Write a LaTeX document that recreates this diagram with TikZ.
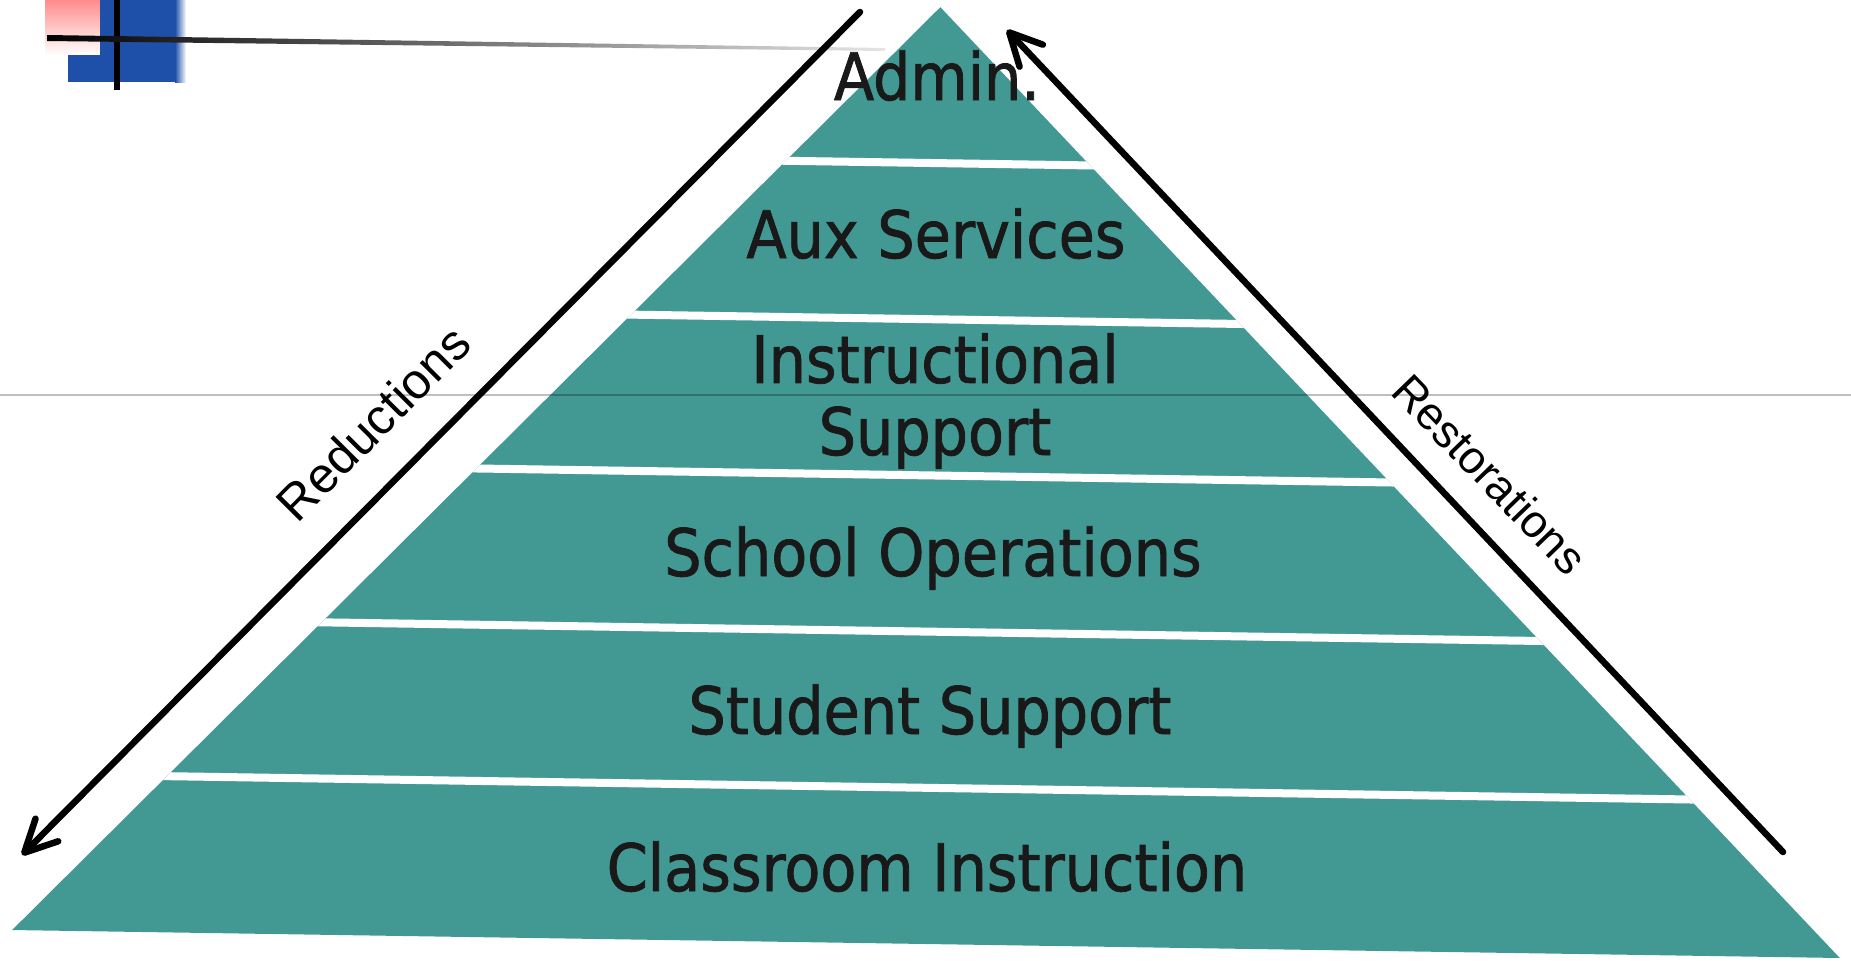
\documentclass[tikz,border=0pt]{standalone}
\usepackage{fontspec}
\usetikzlibrary{arrows.meta}
\newfontfamily\tierfont{DejaVu Sans Condensed}[FakeBold=1.2]
\newfontfamily\sidefont{Liberation Sans}
\definecolor{pyrteal}{RGB}{66,153,148}
\definecolor{logoblue}{RGB}{30,80,170}
\tikzset{
    tier/.style={font=\tierfont\fontsize{18.6}{20.5}\selectfont, text=black!90, inner sep=0mm, anchor=base, align=center}
}
\tikzset{sidelabel/.style={inner sep=0mm}}
\tikzset{bigarrow/.style={line width=0.065cm, line cap=round, -{Straight Barb[length=3.2mm,width=3.2mm,round]}}}

\begin{document}
\begin{tikzpicture}[x=0.01cm, y=-0.01cm]
    \useasboundingbox (0,0) rectangle (1851,960);

    % logo in the corner
    \shade[top color=red!45, bottom color=white] (45,0) rectangle (100,55);
    \fill[logoblue] (100,0) rectangle (175,82);
    \fill[logoblue] (68,55) rectangle (100,82);
    \shade[left color=logoblue, right color=white] (175,0) rectangle (186,82);
    \draw[line width=0.05cm] (117,0) -- (117,90);
    \shade[left color=black, right color=black!10] (47,35) -- (885,48) -- (885,51) -- (47,41) -- cycle;

    % pyramid
    \begin{scope}[shift={(926,944)}, rotate=-0.877]
        \coordinate (bl) at (-914,0);
        \coordinate (br) at (914,0);
        \coordinate (apex) at (0,-937);
        \fill[pyrteal] (bl) -- (br) -- (apex) -- cycle;
        \begin{scope}
            \clip (bl) -- (br) -- (apex) -- cycle;
            \foreach \k in {1,...,5}
                \draw[white, line width=0.08cm] (-1000,-156.2*\k) -- (1000,-156.2*\k);
        \end{scope}
    \end{scope}

    \draw[black, opacity=.25, line width=0.02cm] (0,395) -- (1851,395);

    \node[tier] (admin) at (937,100) {Admin.};
    \node[tier] (aux) at (936,258) {Aux Services};
    \node[tier] (instr) at (935,455) {Instructional\\Support};
    \node[tier] (ops) at (933,576) {School Operations};
    \node[tier] (student) at (930,734) {Student Support};
    \node[tier] (classroom) at (927,891) {Classroom Instruction};

    \coordinate (redtop) at (860,12);
    \coordinate (redend) at (22,855);
    \coordinate (restbot) at (1783,852);
    \coordinate (resttop) at (1007,30);
    \draw[bigarrow] (redtop) -- (redend);
    \draw[bigarrow] (restbot) -- (resttop);

    \node[sidelabel, font=\sidefont\fontsize{14.2}{17}\selectfont, rotate=45.2] (reductions) at (373,423) {Reductions};
    \node[sidelabel, font=\sidefont\fontsize{13}{16}\selectfont, rotate=-46] (restorations) at (1490,474) {Restorations};
\end{tikzpicture}
\end{document}
